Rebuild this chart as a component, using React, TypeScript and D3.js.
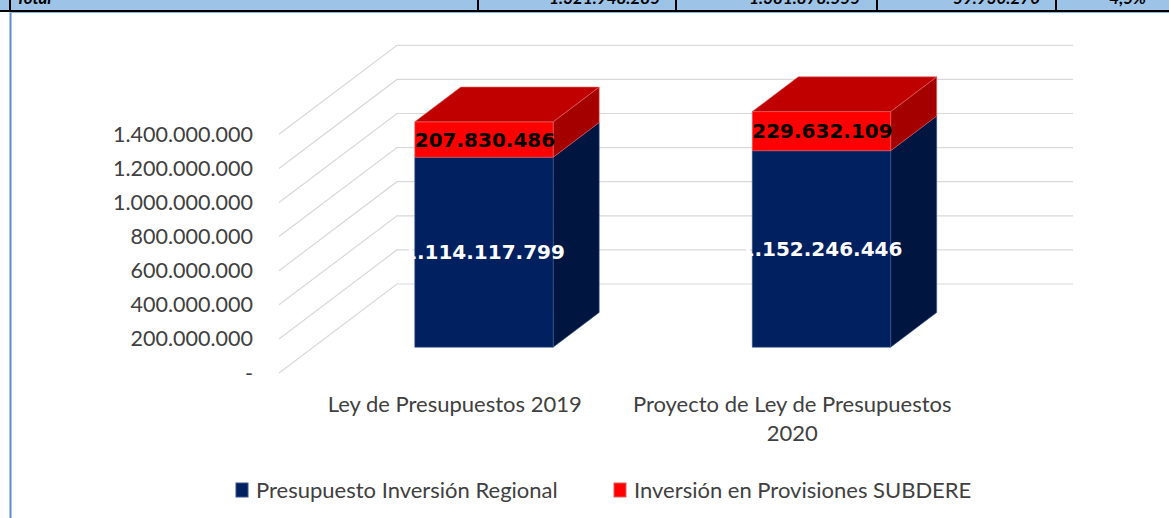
import React, { useEffect, useRef } from "react";
import * as d3 from "d3";

const categories = ["Ley de Presupuestos 2019", "Proyecto de Ley de Presupuestos 2020"];
const categoryLines = [["Ley de Presupuestos 2019"], ["Proyecto de Ley de Presupuestos", "2020"]];
const seriesNames = ["Presupuesto Inversión Regional", "Inversión en Provisiones SUBDERE"];
const regional = [1114117799, 1152246446];
const subdere = [207830486, 229632109];
const yTicks = [0, 200e6, 400e6, 600e6, 800e6, 1000e6, 1200e6, 1400e6];
const tableCells = ["Total", "1.321.948.285", "1.381.878.555", "59.930.270", "4,5%"];

const fmt = (v: number) => (v === 0 ? "-" : d3.format(",")(v).replace(/,/g, "."));

export default function App() {
  const ref = useRef<SVGSVGElement>(null);
  useEffect(() => {
    document.body.style.margin = "0";
    const svg = d3.select(ref.current);
    svg.selectAll("*").remove();
    const W = 1169, H = 518;
    const font = "Lato, 'Open Sans', sans-serif";
    const boldFont = "'DejaVu Sans', sans-serif";

    // table strip on top
    svg.append("rect").attr("x", 0).attr("y", 0).attr("width", W).attr("height", 11).attr("fill", "#9DC3E6");
    const dividers = [10, 478, 676, 877, 1056];
    dividers.forEach((x) =>
      svg.append("line").attr("x1", x).attr("x2", x).attr("y1", 0).attr("y2", 11).attr("stroke", "#000").attr("stroke-width", 2)
    );
    svg.append("line").attr("x1", 0).attr("x2", W).attr("y1", 11).attr("y2", 11).attr("stroke", "#000").attr("stroke-width", 2);
    const cellRight = [null, 660, 860, 1040, 1146];
    tableCells.forEach((t, i) => {
      svg.append("text").text(t)
        .attr("x", i === 0 ? 16 : (cellRight[i] as number))
        .attr("y", 4)
        .attr("text-anchor", i === 0 ? "start" : "end")
        .attr("font-family", font).attr("font-weight", "bold").attr("font-style", "italic")
        .attr("font-size", 17).attr("fill", "#000");
    });

    // chart frame
    svg.append("line").attr("x1", 10.5).attr("x2", 10.5).attr("y1", 12).attr("y2", H).attr("stroke", "#5B8DD0").attr("stroke-width", 2);
    svg.append("line").attr("x1", 10).attr("x2", W).attr("y1", 12.5).attr("y2", 12.5).attr("stroke", "#8FB3E0").attr("stroke-width", 1);

    const y = d3.scaleLinear().domain([0, 1400e6]).range([373, 134.3]);
    const x = d3.scaleBand<string>().domain(categories).range([281, 956]).padding(0);
    const DX = 118, DY = 89;
    const d0 = 0.29, d1 = 0.68;
    const P = (xf: number, v: number, d: number): [number, number] => [xf + d * DX, y(v) - d * DY];

    // gridlines
    const grid = svg.append("g");
    yTicks.forEach((t) => {
      const a = P(279, t, 0), b = P(279, t, 1), c = P(955, t, 1);
      grid.append("polyline")
        .attr("points", [a, b, c].map((p) => p.join(",")).join(" "))
        .attr("fill", "none").attr("stroke", "#D9D9D9").attr("stroke-width", 1.2);
      svg.append("text").text(fmt(t))
        .attr("x", 253).attr("y", y(t)).attr("dy", "0.35em")
        .attr("text-anchor", "end").attr("font-family", font).attr("font-size", 21.5).attr("fill", "#404040");
    });

    const bw = x.bandwidth() * 0.41;
    const colors = [
      { front: "#002060", side: "#001540", top: "#001a50", stroke: "#3A5590" },
      { front: "#FF0000", side: "#A50000", top: "#C00000", stroke: "#E06060" },
    ];
    const poly = (pts: [number, number][]) => pts.map((p) => p.join(",")).join(" ");

    categories.forEach((cat, i) => {
      const cx = (x(cat) as number) + x.bandwidth() / 2;
      const xl = cx - bw / 2, xr = cx + bw / 2;
      const segs = [
        [0, regional[i]],
        [regional[i], regional[i] + subdere[i]],
      ];
      segs.forEach(([v0, v1], s) => {
        const c = colors[s];
        svg.append("polygon")
          .attr("points", poly([P(xr, v0, d0), P(xr, v0, d1), P(xr, v1, d1), P(xr, v1, d0)]))
          .attr("fill", c.side).attr("stroke", c.stroke).attr("stroke-width", 0.6);
        svg.append("polygon")
          .attr("points", poly([P(xl, v0, d0), P(xr, v0, d0), P(xr, v1, d0), P(xl, v1, d0)]))
          .attr("fill", c.front).attr("stroke", c.stroke).attr("stroke-width", 0.6);
        if (s === segs.length - 1) {
          svg.append("polygon")
            .attr("points", poly([P(xl, v1, d0), P(xr, v1, d0), P(xr, v1, d1), P(xl, v1, d1)]))
            .attr("fill", c.top).attr("stroke", c.stroke).attr("stroke-width", 0.6);
        }
      });
      // labels
      const [lx, ly1] = P(cx, regional[i] / 2, d0);
      svg.append("text").text(fmt(regional[i]))
        .attr("x", lx).attr("y", ly1).attr("dy", "0.36em").attr("text-anchor", "middle")
        .attr("font-family", boldFont).attr("font-weight", "bold").attr("font-size", 20).attr("fill", "#fff");
      const [, ly2] = P(cx, regional[i] + subdere[i] / 2, d0);
      svg.append("text").text(fmt(subdere[i]))
        .attr("x", lx + 1).attr("y", ly2).attr("dy", "0.36em").attr("text-anchor", "middle")
        .attr("font-family", boldFont).attr("font-weight", "bold").attr("font-size", 20).attr("fill", "#000");
      // category labels
      const lines = categoryLines[i];
      lines.forEach((ln, k) => {
        svg.append("text").text(ln)
          .attr("x", cx + 5).attr("y", 412 + k * 29)
          .attr("text-anchor", "middle").attr("font-family", font).attr("font-size", 22).attr("fill", "#404040");
      });
    });

    // legend
    const legendX = [236, 614];
    seriesNames.forEach((n, i) => {
      svg.append("rect").attr("x", legendX[i]).attr("y", 483).attr("width", 12).attr("height", 14)
        .attr("fill", colors[i].front).attr("stroke", colors[i].stroke).attr("stroke-width", 1);
      svg.append("text").text(n).attr("x", legendX[i] + 20).attr("y", 498)
        .attr("font-family", font).attr("font-size", 22).attr("fill", "#404040");
    });
  }, []);
  return <svg ref={ref} width={1169} height={518} style={{ display: "block" }} />;
}
